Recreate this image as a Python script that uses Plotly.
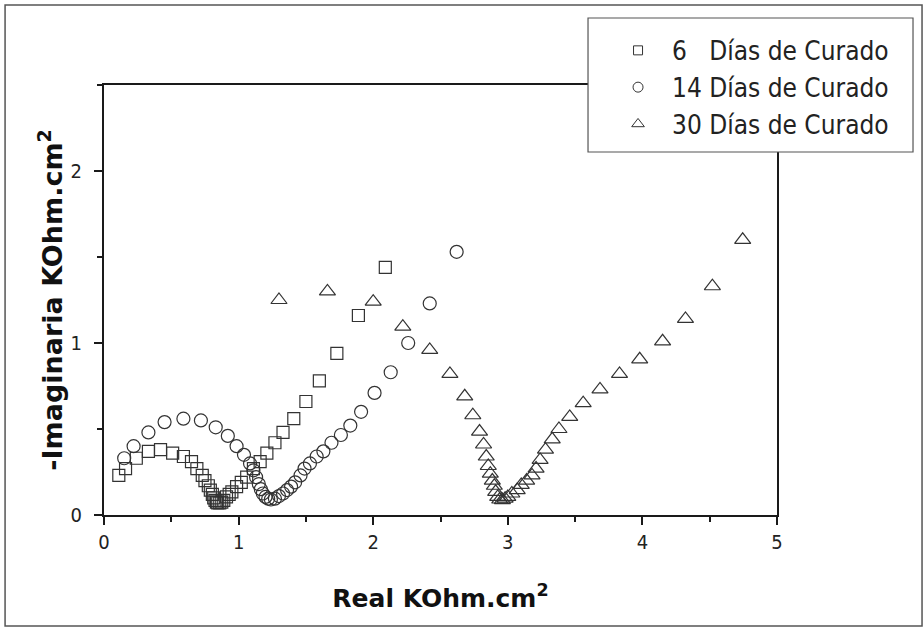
import plotly.graph_objects as go

# 6 días de curado
x6 = [0.11, 0.16, 0.24, 0.33, 0.42, 0.51, 0.59, 0.65, 0.69, 0.73, 0.75, 0.775, 0.79, 0.805, 0.815,
      0.825, 0.835, 0.845, 0.86, 0.875, 0.89, 0.91, 0.93, 0.95, 0.985, 1.02, 1.06, 1.11, 1.16, 1.21,
      1.27, 1.33, 1.41, 1.50, 1.60, 1.73, 1.89, 2.09]
y6 = [0.23, 0.27, 0.33, 0.37, 0.38, 0.36, 0.34, 0.31, 0.27, 0.23, 0.20, 0.17, 0.145, 0.12, 0.10,
      0.085, 0.075, 0.07, 0.07, 0.075, 0.085, 0.105, 0.12, 0.135, 0.165, 0.19, 0.22, 0.27, 0.31, 0.36,
      0.42, 0.48, 0.56, 0.66, 0.78, 0.94, 1.16, 1.44]

# 14 días de curado
x14 = [0.15, 0.22, 0.33, 0.45, 0.59, 0.72, 0.83, 0.92, 0.985, 1.04, 1.085, 1.11, 1.13, 1.15, 1.165,
       1.18, 1.20, 1.22, 1.24, 1.27, 1.30, 1.33, 1.36, 1.39, 1.42, 1.46, 1.49, 1.53, 1.58, 1.63,
       1.69, 1.76, 1.83, 1.91, 2.01, 2.13, 2.26, 2.42, 2.62]
y14 = [0.33, 0.40, 0.48, 0.54, 0.56, 0.55, 0.51, 0.46, 0.40, 0.35, 0.30, 0.26, 0.22, 0.18, 0.15,
       0.125, 0.105, 0.095, 0.09, 0.095, 0.11, 0.125, 0.145, 0.165, 0.19, 0.23, 0.27, 0.30, 0.34, 0.37,
       0.42, 0.465, 0.52, 0.60, 0.71, 0.83, 1.00, 1.23, 1.53]

# 30 días de curado
x30 = [1.30, 1.66, 2.00, 2.22, 2.42, 2.57, 2.68, 2.74, 2.79, 2.82, 2.84, 2.855, 2.87, 2.885, 2.90,
       2.91, 2.925, 2.94, 2.96, 2.98, 3.00, 3.03, 3.07, 3.10, 3.14, 3.18, 3.21, 3.24, 3.28, 3.33,
       3.38, 3.46, 3.56, 3.685, 3.83, 3.98, 4.15, 4.32, 4.52, 4.745]
y30 = [1.25, 1.30, 1.24, 1.095, 0.96, 0.82, 0.69, 0.58, 0.485, 0.41, 0.34, 0.285, 0.24, 0.20, 0.17,
       0.135, 0.105, 0.09, 0.087, 0.095, 0.105, 0.125, 0.145, 0.175, 0.20, 0.23, 0.27, 0.32, 0.38, 0.44,
       0.50, 0.57, 0.65, 0.73, 0.82, 0.905, 1.01, 1.14, 1.33, 1.60]

names = ["6\u2007 Días de Curado", "14 Días de Curado", "30 Días de Curado"]
x_ticks = [0, 1, 2, 3, 4, 5]
y_ticks = [0, 1, 2]

MC = "#333333"
fig = go.Figure()
series = [(x6, y6, names[0], "square-open", 12, "a"),
          (x14, y14, names[1], "circle-open", 13, "b"),
          (x30, y30, names[2], "triangle-up-open", 14, "c")]
for xs, ys, nm, sym, sz, g in series:
    fig.add_trace(go.Scatter(x=xs, y=ys, mode="markers", name=nm, legendgroup=g, showlegend=False,
                             marker=dict(symbol=sym, size=sz, color=MC, line=dict(width=1.2, color=MC))))
# legend entries (smaller symbols, as in the reference legend)
for xs, ys, nm, sym, sz, g in series:
    fig.add_trace(go.Scatter(x=[None], y=[None], mode="markers", name=nm, legendgroup=g,
                             marker=dict(symbol=sym, size=sz - 3, color=MC, line=dict(width=1, color=MC))))

axis_common = dict(showline=True, linecolor="#1a1a1a", linewidth=2, mirror=True,
                   ticks="outside", ticklen=8, tickwidth=2, tickcolor="#1a1a1a",
                   showgrid=False, zeroline=False,
                   tickfont=dict(family="DejaVu Sans Condensed, DejaVu Sans", size=20, color="#222"))

fig.update_layout(
    width=924, height=627,
    margin=dict(l=104, r=147, t=85, b=112),
    paper_bgcolor="white", plot_bgcolor="white",
    xaxis=dict(range=[0, 5], tickvals=x_ticks, **axis_common,
               minor=dict(ticks="outside", ticklen=5, tickwidth=2, dtick=0.5, tickcolor="#1a1a1a"),
               title=dict(text="<b>Real KOhm.cm<sup>2</sup></b>", standoff=36,
                          font=dict(family="DejaVu Sans", size=25, color="#111"))),
    yaxis=dict(range=[0, 2.5], tickvals=y_ticks, **axis_common, ticklabelstandoff=8,
               minor=dict(ticks="outside", ticklen=5, tickwidth=2, dtick=0.5, tickcolor="#1a1a1a"),
               title=dict(text="<b>-Imaginaria KOhm.cm<sup>2</sup></b>", standoff=0,
                          font=dict(family="DejaVu Sans", size=27, color="#111"))),
    legend=dict(x=0.743, y=1.135, xanchor="left", yanchor="top", bgcolor="rgba(0,0,0,0)",
                borderwidth=0, tracegroupgap=0, itemsizing="trace", itemwidth=58,
                font=dict(family="DejaVu Sans Condensed, DejaVu Sans", size=26, color="#222")),
    shapes=[
        dict(type="rect", xref="paper", yref="paper", x0=-0.147, x1=1.2155, y0=-0.258, y1=1.186,
             line=dict(color="#555", width=1.5), fillcolor="rgba(0,0,0,0)", layer="below"),
        dict(type="rect", xref="paper", yref="paper", x0=0.7192, x1=1.2021, y0=0.8442, y1=1.1558,
             line=dict(color="#555", width=1.2), fillcolor="white", layer="above"),
    ],
)

fig.write_html("out.html", config={"displayModeBar": False},
               post_script="document.body.style.margin='0';")
